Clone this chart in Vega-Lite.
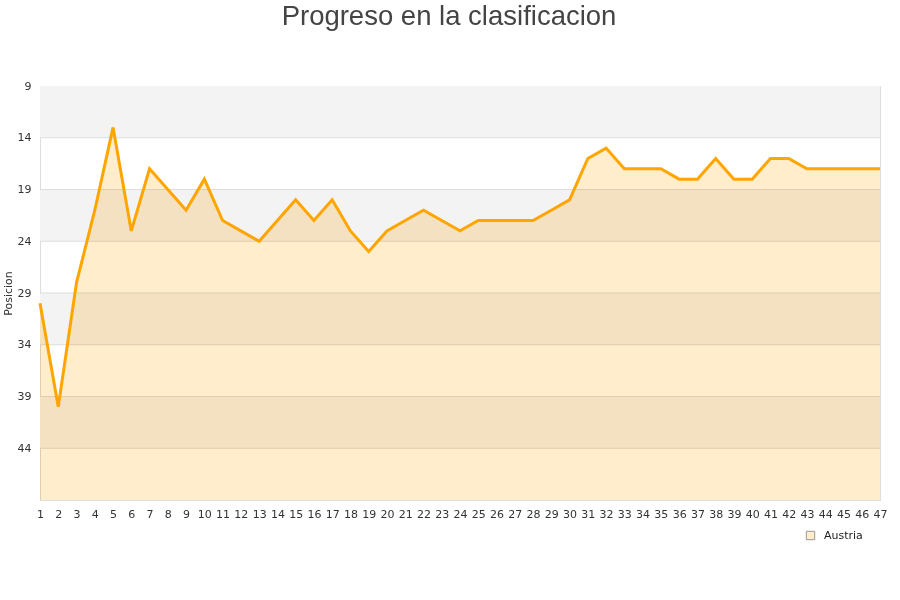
{
  "$schema": "https://vega.github.io/schema/vega-lite/v6.json",
  "width": 840,
  "height": 414,
  "autosize": "none",
  "padding": {"left": 40, "top": 86, "right": 20, "bottom": 100},
  "background": "white",
  "title": {
    "text": "Progreso en la clasificacion",
    "font": "Liberation Sans",
    "fontSize": 27.5,
    "fontWeight": "normal",
    "color": "#444444",
    "anchor": "middle",
    "dx": -11,
    "offset": 50
  },
  "config": {
    "view": {"stroke": "#dddddd"},
    "axis": {
      "labelFont": "DejaVu Sans",
      "labelFontSize": 11,
      "labelColor": "#333333",
      "titleFont": "DejaVu Sans",
      "titleFontSize": 11,
      "titleFontWeight": "normal",
      "titleColor": "#333333",
      "ticks": false,
      "domainColor": "#dddddd",
      "grid": false
    }
  },
  "datasets": {
    "bands": [
      {"from": 9, "to": 14},
      {"from": 19, "to": 24},
      {"from": 29, "to": 34},
      {"from": 39, "to": 44}
    ],
    "grid": [
      {"pos": 14}, {"pos": 19}, {"pos": 24}, {"pos": 29}, {"pos": 34}, {"pos": 39}, {"pos": 44}
    ],
    "series": [
      {"jornada": 1, "posicion": 30, "equipo": "Austria"},
      {"jornada": 2, "posicion": 40, "equipo": "Austria"},
      {"jornada": 3, "posicion": 28, "equipo": "Austria"},
      {"jornada": 4, "posicion": 21, "equipo": "Austria"},
      {"jornada": 5, "posicion": 13, "equipo": "Austria"},
      {"jornada": 6, "posicion": 23, "equipo": "Austria"},
      {"jornada": 7, "posicion": 17, "equipo": "Austria"},
      {"jornada": 8, "posicion": 19, "equipo": "Austria"},
      {"jornada": 9, "posicion": 21, "equipo": "Austria"},
      {"jornada": 10, "posicion": 18, "equipo": "Austria"},
      {"jornada": 11, "posicion": 22, "equipo": "Austria"},
      {"jornada": 12, "posicion": 23, "equipo": "Austria"},
      {"jornada": 13, "posicion": 24, "equipo": "Austria"},
      {"jornada": 14, "posicion": 22, "equipo": "Austria"},
      {"jornada": 15, "posicion": 20, "equipo": "Austria"},
      {"jornada": 16, "posicion": 22, "equipo": "Austria"},
      {"jornada": 17, "posicion": 20, "equipo": "Austria"},
      {"jornada": 18, "posicion": 23, "equipo": "Austria"},
      {"jornada": 19, "posicion": 25, "equipo": "Austria"},
      {"jornada": 20, "posicion": 23, "equipo": "Austria"},
      {"jornada": 21, "posicion": 22, "equipo": "Austria"},
      {"jornada": 22, "posicion": 21, "equipo": "Austria"},
      {"jornada": 23, "posicion": 22, "equipo": "Austria"},
      {"jornada": 24, "posicion": 23, "equipo": "Austria"},
      {"jornada": 25, "posicion": 22, "equipo": "Austria"},
      {"jornada": 26, "posicion": 22, "equipo": "Austria"},
      {"jornada": 27, "posicion": 22, "equipo": "Austria"},
      {"jornada": 28, "posicion": 22, "equipo": "Austria"},
      {"jornada": 29, "posicion": 21, "equipo": "Austria"},
      {"jornada": 30, "posicion": 20, "equipo": "Austria"},
      {"jornada": 31, "posicion": 16, "equipo": "Austria"},
      {"jornada": 32, "posicion": 15, "equipo": "Austria"},
      {"jornada": 33, "posicion": 17, "equipo": "Austria"},
      {"jornada": 34, "posicion": 17, "equipo": "Austria"},
      {"jornada": 35, "posicion": 17, "equipo": "Austria"},
      {"jornada": 36, "posicion": 18, "equipo": "Austria"},
      {"jornada": 37, "posicion": 18, "equipo": "Austria"},
      {"jornada": 38, "posicion": 16, "equipo": "Austria"},
      {"jornada": 39, "posicion": 18, "equipo": "Austria"},
      {"jornada": 40, "posicion": 18, "equipo": "Austria"},
      {"jornada": 41, "posicion": 16, "equipo": "Austria"},
      {"jornada": 42, "posicion": 16, "equipo": "Austria"},
      {"jornada": 43, "posicion": 17, "equipo": "Austria"},
      {"jornada": 44, "posicion": 17, "equipo": "Austria"},
      {"jornada": 45, "posicion": 17, "equipo": "Austria"},
      {"jornada": 46, "posicion": 17, "equipo": "Austria"},
      {"jornada": 47, "posicion": 17, "equipo": "Austria"}
    ]
  },
  "layer": [
    {
      "data": {"name": "bands"},
      "mark": {"type": "rect", "fill": "#f3f3f3", "strokeWidth": 0},
      "encoding": {
        "y": {
          "field": "from", "type": "quantitative",
          "scale": {"domain": [9, 49], "reverse": true, "nice": false, "zero": false},
          "axis": {
            "title": "Posicion",
            "values": [9, 14, 19, 24, 29, 34, 39, 44],
            "labelPadding": 9,
            "titlePadding": 4
          }
        },
        "y2": {"field": "to"}
      }
    },
    {
      "data": {"name": "grid"},
      "mark": {"type": "rule", "color": "#dddddd", "strokeWidth": 1},
      "encoding": {
        "y": {"field": "pos", "type": "quantitative"}
      }
    },
    {
      "data": {"name": "series"},
      "mark": {"type": "area", "fillOpacity": 1, "blend": "multiply", "line": false},
      "encoding": {
        "x": {
          "field": "jornada", "type": "quantitative",
          "scale": {"domain": [1, 47], "nice": false, "zero": false},
          "axis": {
            "title": null,
            "values": [1,2,3,4,5,6,7,8,9,10,11,12,13,14,15,16,17,18,19,20,21,22,23,24,25,26,27,28,29,30,31,32,33,34,35,36,37,38,39,40,41,42,43,44,45,46,47],
            "labelPadding": 8,
            "labelFlush": false,
            "labelOverlap": false
          }
        },
        "y": {"field": "posicion", "type": "quantitative"},
        "y2": {"datum": 49},
        "color": {
          "field": "equipo", "type": "nominal",
          "scale": {"range": ["#FFEDCC"]},
          "legend": {
            "title": null,
            "orient": "none",
            "legendX": 765,
            "legendY": 444,
            "symbolType": "square",
            "symbolSize": 70,
            "symbolStrokeColor": "#999999",
            "symbolStrokeWidth": 1,
            "labelFont": "DejaVu Sans",
            "labelFontSize": 11,
            "labelColor": "#222222",
            "labelOffset": 8
          }
        }
      }
    },
    {
      "data": {"name": "series"},
      "mark": {"type": "line", "color": "#FFA500", "strokeWidth": 3},
      "encoding": {
        "x": {
          "field": "jornada", "type": "quantitative",
          "axis": {
            "title": null,
            "values": [1,2,3,4,5,6,7,8,9,10,11,12,13,14,15,16,17,18,19,20,21,22,23,24,25,26,27,28,29,30,31,32,33,34,35,36,37,38,39,40,41,42,43,44,45,46,47],
            "labelPadding": 8,
            "labelFlush": false,
            "labelOverlap": false
          }
        },
        "y": {"field": "posicion", "type": "quantitative"}
      }
    }
  ]
}
